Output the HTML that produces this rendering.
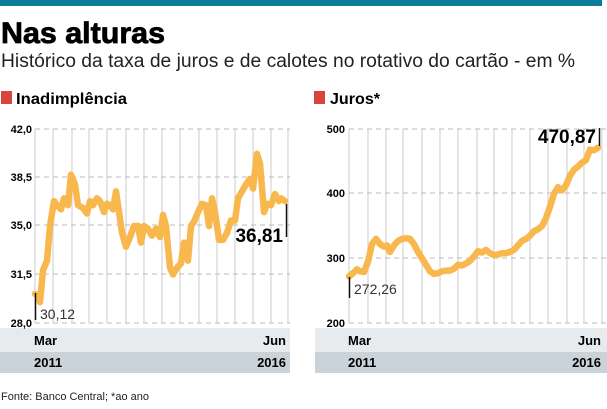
<!DOCTYPE html>
<html><head><meta charset="utf-8"><style>
body{margin:0;background:#fff;}
svg{display:block;font-family:"Liberation Sans Narrow","Liberation Sans",sans-serif;}
</style></head><body>
<svg id="s" width="607" height="409" viewBox="0 0 607 409">
<rect x="0" y="0" width="602" height="6" fill="#0a7d9c"/>
<text x="1" y="43" font-size="30" font-weight="bold" stroke="#000" stroke-width="0.8" textLength="164" lengthAdjust="spacingAndGlyphs">Nas alturas</text>
<text x="1" y="67" font-size="19" fill="#222" textLength="574" lengthAdjust="spacingAndGlyphs">Histórico da taxa de juros e de calotes no rotativo do cartão - em %</text>
<rect x="1" y="91" width="11" height="13" fill="#d9453b"/>
<text x="16" y="104" font-size="16" font-weight="bold" textLength="111" lengthAdjust="spacingAndGlyphs">Inadimplência</text>
<rect x="314" y="91" width="11" height="13" fill="#d9453b"/>
<text x="330" y="104" font-size="16" font-weight="bold" textLength="50" lengthAdjust="spacingAndGlyphs">Juros*</text>
<rect x="0" y="328" width="290" height="24" fill="#e7ebee"/>
<rect x="0" y="352" width="290" height="21" fill="#c9d3d9"/>
<rect x="315" y="328" width="292" height="24" fill="#e7ebee"/>
<rect x="315" y="352" width="292" height="21" fill="#c9d3d9"/>
<g font-weight="bold" font-size="13">
<text x="34" y="345">Mar</text><text x="286" y="345" text-anchor="end">Jun</text>
<text x="34" y="367">2011</text><text x="286" y="367" text-anchor="end">2016</text>
<text x="348" y="345">Mar</text><text x="601" y="345" text-anchor="end">Jun</text>
<text x="348" y="367">2011</text><text x="601" y="367" text-anchor="end">2016</text>
</g>
<g id="grid"></g>
<g font-weight="bold" font-size="11" text-anchor="end">
<text x="32" y="133">42,0</text><text x="32" y="181">38,5</text><text x="32" y="229">35,0</text><text x="32" y="278">31,5</text><text x="32" y="327">28,0</text>
<text x="345" y="133">500</text><text x="345" y="197">400</text><text x="345" y="262">300</text><text x="345" y="327">200</text>
</g>
<g id="lines"></g>
<line x1="35.5" y1="293" x2="35.5" y2="320" stroke="#111" stroke-width="1.5"/>
<text x="40" y="319" font-size="14" fill="#333">30,12</text>
<line x1="286.5" y1="204" x2="286.5" y2="237" stroke="#111" stroke-width="1.5"/>
<text x="283" y="242" font-size="19" font-weight="bold" text-anchor="end">36,81</text>
<line x1="349.5" y1="277" x2="349.5" y2="298" stroke="#111" stroke-width="1.5"/>
<text x="354" y="294" font-size="14" fill="#333">272,26</text>
<line x1="599.5" y1="128" x2="599.5" y2="146" stroke="#111" stroke-width="1.5"/>
<text x="596" y="143" font-size="19" font-weight="bold" text-anchor="end">470,87</text>
<text x="1" y="400" font-size="11" fill="#222">Fonte: Banco Central; *ao ano</text>
</svg>
<script>
var NS="http://www.w3.org/2000/svg",g=document.getElementById("grid"),L=document.getElementById("lines");
function el(t,a,p){var e=document.createElementNS(NS,t);for(var k in a)e.setAttribute(k,a[k]);p.appendChild(e);}
[35,53,72,89,107,126,144,162,180,199,217,235,253,271,288].forEach(function(x){el("line",{x1:x,y1:129,x2:x,y2:323,stroke:"#d4d4d4","stroke-width":1.2},g)});
[349,368,386,403,422,440,458,477,494,512,530,548,567,584,602].forEach(function(x){el("line",{x1:x,y1:129,x2:x,y2:323,stroke:"#d4d4d4","stroke-width":1.2},g)});
[129,177,225,274,323].forEach(function(y){el("line",{x1:35,y1:y,x2:290,y2:y,stroke:"#bbb","stroke-dasharray":"5,4"},g)});
[129,193,258,323].forEach(function(y){el("line",{x1:349,y1:y,x2:607,y2:y,stroke:"#bbb","stroke-dasharray":"5,4"},g)});
var A=[35,30.1,38,30,40,29.5,43,31.8,47,32.5,50,35,54,36.8,57,36.5,61,36.2,64,37,68,36.5,71,38.7,75,38,78,36.5,83,36.3,87,35.9,90,36.8,93,36.5,97,37,100,36.8,104,36,107,36.6,110,36.5,113,36.2,116,37.5,119,36,122,34.5,126,33.5,130,34.2,134,35,138,35,141,33.8,144,35,148,34.8,152,34.3,156,34.8,160,34.2,163,35.8,166,35,170,32,173,31.5,177,32,181,32.3,184,33.8,188,32.5,191,35,194,35.3,198,36,202,36.6,206,36.5,209,35,212,37,215,36,219,34,223,34,227,34.5,231,35.4,235,35.4,238,37,242,37.5,246,38,250,38.4,253,37.7,257,40.2,260,39.5,264,36,267,36.6,271,36.5,275,37.3,279,36.8,281,37,285,36.8];
var B=[349,272,353,277,357,283,360,280,364,279,368,295,372,322,376,330,380,322,384,318,387,320,390,310,394,320,398,327,402,330,406,331,410,330,414,322,418,310,422,300,426,290,430,280,434,276,438,277,442,280,446,281,450,281,454,284,458,290,462,289,466,292,470,296,474,303,478,311,482,309,486,313,490,308,494,305,498,306,502,308,506,308,510,310,514,313,518,320,522,327,526,330,530,335,534,342,538,345,542,350,546,362,550,380,554,400,558,410,562,405,566,413,570,428,574,437,578,442,582,448,586,452,590,468,594,467,598,471];
function pts(a,f){var s=[];for(var i=0;i<a.length;i+=2)s.push(a[i]+","+f(a[i+1]).toFixed(1));return s.join(" ");}
el("polyline",{points:pts(A,function(v){return 129+(42-v)/14*194}),fill:"none",stroke:"#f8b84e","stroke-width":6.5,"stroke-linejoin":"round","stroke-linecap":"round"},L);
el("polyline",{points:pts(B,function(v){return 129+(500-v)*0.6467}),fill:"none",stroke:"#f8b84e","stroke-width":6.5,"stroke-linejoin":"round","stroke-linecap":"round"},L);
</script>
</body></html>
